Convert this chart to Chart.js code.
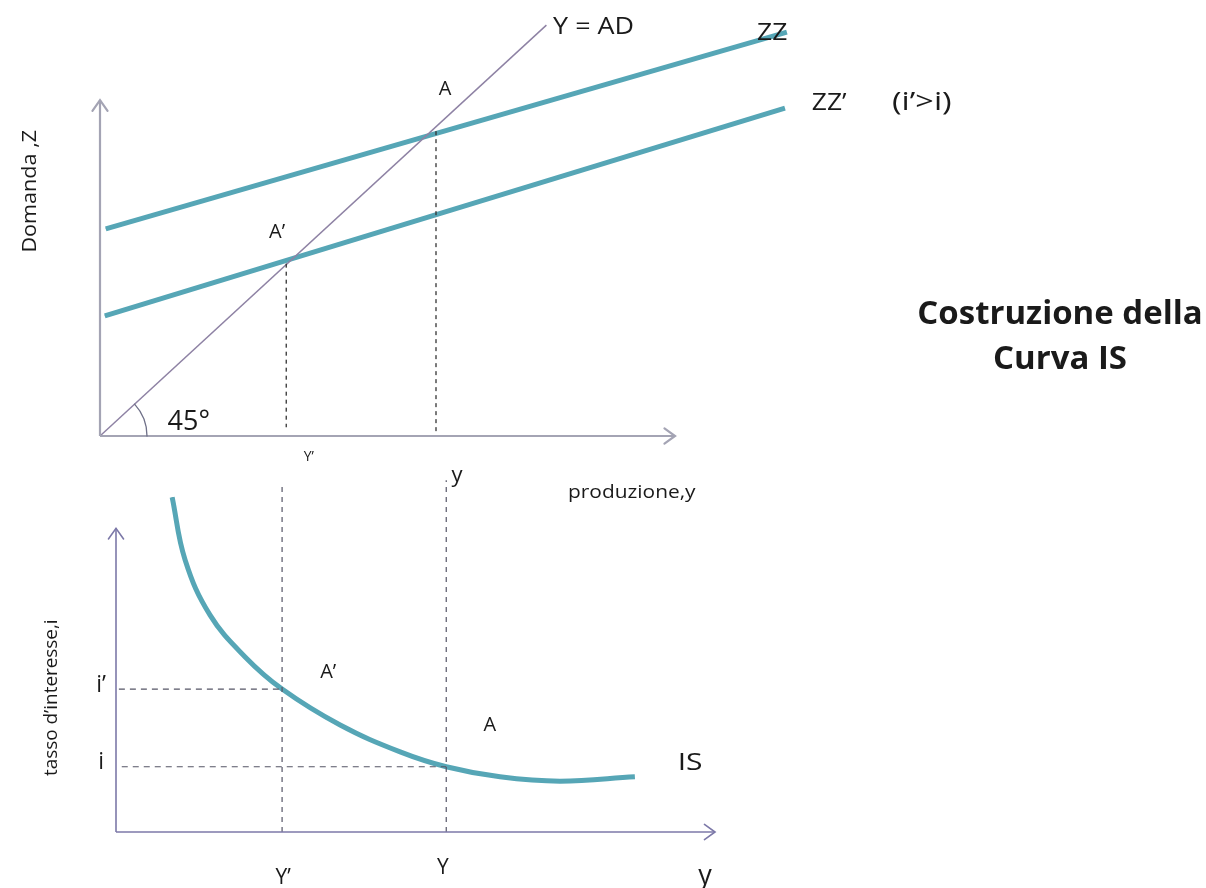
<!DOCTYPE html>
<html><head><meta charset="utf-8">
<script src="https://cdn.jsdelivr.net/npm/chart.js@4.4.1/dist/chart.umd.min.js"></script>
<style>
html,body{margin:0;padding:0;background:#fff;width:1206px;height:888px;overflow:hidden}
canvas{position:absolute;left:0;top:0}
</style></head>
<body>
<canvas id="topc" width="1206" height="888"></canvas>
<canvas id="botc" width="1206" height="888"></canvas>
<script>
// ---------- TOP PANEL DATA (production Y on x, demand Z on y) ----------
const topAxisX = [[0,0],[11.98,0]];
const topAxisY = [[0,0],[0,7.6]];
const line45 = [[0,0],[9.3,9.3]];          // Y = AD
const lineZZ = [[0.12,4.69],[14.31,9.14]];  // ZZ
const lineZZp = [[0.1,2.72],[14.27,7.42]];  // ZZ'
const dashA = [[7.0,6.9],[7.0,0]];
const dashAp = [[3.88,3.9],[3.88,0.2]];

// ---------- BOTTOM PANEL DATA (output y on x, interest i on y) ----------
const botAxisX = [[0,0],[12.48,0]];
const botAxisY = [[0,0],[0,6.33]];
const isOutput = [1.17,1.44,1.96,2.69,3.46,4.67,5.92,6.88,8.0,9.25,10.81];
const isRate   = [6.98,5.67,4.52,3.65,2.98,2.23,1.67,1.36,1.15,1.06,1.15];
const Yp = 3.46, Yeq = 6.88, ip = 2.98, ieq = 1.36;
const dashYp = [[Yp,0],[Yp,7.29]];
const dashY = [[Yeq,0],[Yeq,7.33]];
const dashIp = [[0.06,ip],[Yp,ip]];
const dashI = [[0.12,ieq],[Yeq,ieq]];

const pts = a => a.map(p => ({x:p[0], y:p[1]}));
const TEAL = '#56a6b6', SPECK = 'rgba(45,65,75,0.55)';
const FONT = '"Open Sans", "DejaVu Sans", sans-serif';

function seg(data, color, width, dash) {
  return {data: pts(data), showLine: true, borderColor: color, borderWidth: width,
    borderDash: dash || [], pointRadius: 0, fill: false, clip: false, tension: 0};
}

const arrows = {
  id: 'arrows',
  afterDatasetsDraw(chart, args, opts) {
    const ctx = chart.ctx, xs = chart.scales.x, ys = chart.scales.y;
    ctx.save();
    ctx.strokeStyle = opts.color; ctx.lineWidth = opts.width; ctx.lineCap = 'round';
    (opts.tips || []).forEach(t => {
      const px = xs.getPixelForValue(t.at[0]), py = ys.getPixelForValue(t.at[1]);
      const ang = t.dir === 'up' ? -Math.PI/2 : 0;
      const L = 13, spread = 0.62;
      ctx.beginPath();
      ctx.moveTo(px - L*Math.cos(ang - spread), py - L*Math.sin(ang - spread));
      ctx.lineTo(px, py);
      ctx.lineTo(px - L*Math.cos(ang + spread), py - L*Math.sin(ang + spread));
      ctx.stroke();
    });
    if (opts.arc) {
      const ox = xs.getPixelForValue(0), oy = ys.getPixelForValue(0);
      const ex = xs.getPixelForValue(line45[1][0]), ey = ys.getPixelForValue(line45[1][1]);
      const a = Math.atan2(ey - oy, ex - ox);
      ctx.strokeStyle = '#6f7088'; ctx.lineWidth = 1.3;
      ctx.beginPath(); ctx.arc(ox, oy, 47, a, 0); ctx.stroke();
    }
    ctx.restore();
  }
};

const labels = {
  id: 'labels',
  afterDatasetsDraw(chart, args, opts) {
    const ctx = chart.ctx, xs = chart.scales.x, ys = chart.scales.y;
    (opts.items || []).forEach(l => {
      const px = xs.getPixelForValue(l.x), py = ys.getPixelForValue(l.y);
      ctx.save();
      ctx.translate(px, py);
      if (l.rot) ctx.rotate(l.rot);
      if (l.sx) ctx.scale(l.sx, 1);
      ctx.fillStyle = l.color || '#1a1a1a';
      ctx.font = (l.weight || '400') + ' ' + l.size + 'px ' + FONT;
      ctx.textAlign = l.align || 'center';
      ctx.textBaseline = 'middle';
      ctx.fillText(l.text, 0, 0);
      ctx.restore();
    });
  }
};

const baseOpts = (pad, xmax, ymax) => ({
  responsive: false, animation: false, events: [],
  layout: {padding: pad},
  scales: {
    x: {type: 'linear', min: 0, max: xmax, display: false},
    y: {type: 'linear', min: 0, max: ymax, display: false}
  },
  plugins: {legend: {display: false}, tooltip: {enabled: false}, title: {display: false}}
});

// ---- top chart ----
const topOpts = baseOpts({left: 100, right: 410, top: 3, bottom: 452}, 14.5, 9.8);
topOpts.plugins.arrows = {color: '#a4a4b4', width: 2.2, arc: true,
  tips: [{at: topAxisY[1], dir: 'up'}, {at: topAxisX[1], dir: 'right'}]};
topOpts.plugins.labels = {items: [
  {text: 'Y = AD', x: 9.44, y: 9.26, size: 24, align: 'left', sx: 1.12},
  {text: 'ZZ', x: 13.69, y: 9.12, size: 23, align: 'left', sx: 1.15},
  {text: 'ZZ\u2019', x: 14.83, y: 7.53, size: 23, align: 'left', sx: 1.15},
  {text: '(i\u2019>i)', x: 16.5, y: 7.53, size: 25, align: 'left', sx: 1.3},
  {text: 'A', x: 7.19, y: 7.85, size: 20},
  {text: 'A\u2019', x: 3.69, y: 4.62, size: 20},
  {text: '45°', x: 1.85, y: 0.32, size: 27},
  {text: 'Y\u2019', x: 4.35, y: -0.47, size: 14},
  {text: 'y', x: 7.44, y: -0.9, size: 22},
  {text: 'produzione,y', x: 9.75, y: -1.27, size: 19, align: 'left', sx: 1.1},
  {text: 'Domanda ,Z', x: -1.46, y: 5.54, size: 20, rot: -Math.PI/2, sx: 1.08},
  {text: 'Costruzione della', x: 20.0, y: 2.74, size: 32, weight: '700', sx: 1.03},
  {text: 'Curva IS', x: 20.0, y: 1.72, size: 32, weight: '700', sx: 1.03}
]};
new Chart(document.getElementById('topc'), {
  type: 'scatter',
  data: {datasets: [
    seg(topAxisX, '#a4a4b4', 2.2),
    seg(topAxisY, '#a4a4b4', 2.2),
    seg(dashA, '#333', 1.3, [4,4]),
    seg(dashAp, '#333', 1.3, [4,4]),
    seg(line45, '#8e82a4', 1.5),
    seg(lineZZ, TEAL, 5),
    seg(lineZZ, SPECK, 1.4, [6,22]),
    seg(lineZZp, TEAL, 5),
    seg(lineZZp, SPECK, 1.4, [6,22])
  ]},
  options: topOpts,
  plugins: [arrows, labels]
});

// ---- bottom chart ----
const botOpts = baseOpts({left: 116, right: 466, top: 477, bottom: 56}, 13, 7.4);
botOpts.plugins.arrows = {color: '#7c78a8', width: 1.6,
  tips: [{at: botAxisY[1], dir: 'up'}, {at: botAxisX[1], dir: 'right'}]};
botOpts.plugins.labels = {items: [
  {text: 'i\u2019', x: -0.31, y: 3.06, size: 23},
  {text: 'i', x: -0.31, y: 1.46, size: 23},
  {text: 'A\u2019', x: 4.42, y: 3.33, size: 20},
  {text: 'A', x: 7.79, y: 2.23, size: 20},
  {text: 'IS', x: 11.96, y: 1.44, size: 24, sx: 1.25},
  {text: 'Y\u2019', x: 3.48, y: -0.96, size: 21},
  {text: 'Y', x: 6.81, y: -0.75, size: 21},
  {text: 'y', x: 12.27, y: -0.92, size: 27},
  {text: 'tasso d\u2019interesse,i', x: -1.33, y: 2.8, size: 18, rot: -Math.PI/2, sx: 1.05}
]};
const isPts = isOutput.map((v,k) => [v, isRate[k]]);
new Chart(document.getElementById('botc'), {
  type: 'scatter',
  data: {datasets: [
    seg(botAxisX, '#7c78a8', 1.6),
    seg(botAxisY, '#7c78a8', 1.6),
    seg(dashYp, '#555566', 1.2, [5,5]),
    seg(dashY, '#555566', 1.2, [5,5]),
    seg(dashIp, '#555566', 1.2, [6,5]),
    seg(dashI, '#555566', 1.2, [6,5]),
    Object.assign(seg(isPts, TEAL, 5), {tension: 0.4}),
    Object.assign(seg(isPts, SPECK, 1.4, [6,22]), {tension: 0.4})
  ]},
  options: botOpts,
  plugins: [arrows, labels]
});
</script>
</body></html>
